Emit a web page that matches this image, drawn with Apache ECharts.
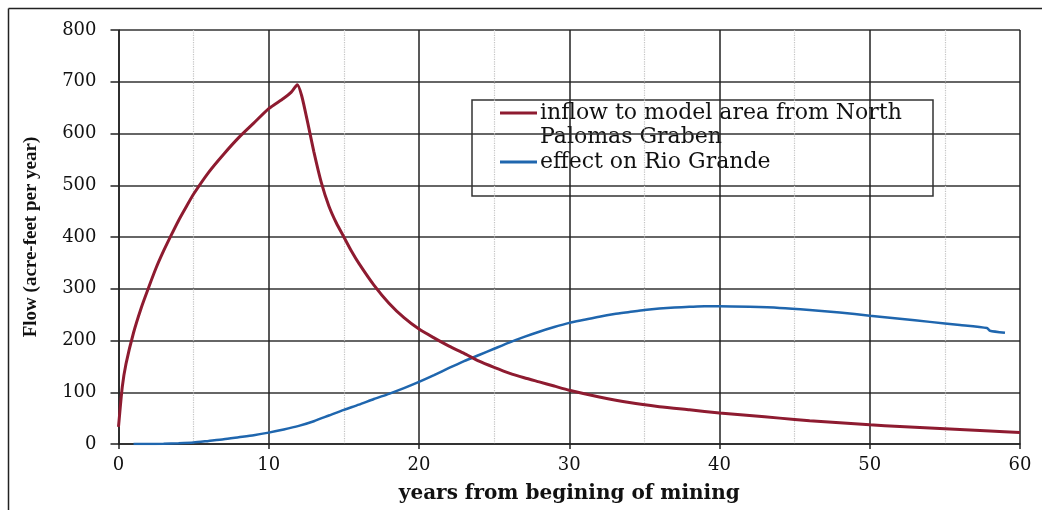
<!DOCTYPE html>
<html>
<head>
<meta charset="utf-8">
<script src="https://cdn.jsdelivr.net/npm/echarts@6/dist/echarts.min.js"></script>
<style>html,body{margin:0;padding:0;background:#fff}#c{width:1042px;height:510px}</style>
</head>
<body>
<div id="c"></div>
<script>
// years from beginning of mining
var inflowYears = [0,0.25,0.5,1,1.5,2,2.5,3,3.5,4,4.5,5,6,7,8,9,10,11,11.5,11.9,12.2,12.6,13,13.5,14,14.5,15,15.5,16,17,18,19,20,21,22,23,24,25,26,27,28,29,30,32,34,36,38,40,42,44,46,48,50,52,54,56,58,60];
var inflowValues = [33,110,155,215,262,302,340,373,403,432,458,483,525,560,592,620,648,668,680,694,672,620,565,505,460,427,400,373,349,307,272,244,222,205,189,175,160,148,137,128,120,112,104,91,80,72,66,60,55,50,45,41,37,34,31,28,25,22];
var rioYears = [1,2,3,4,5,6,7,8,9,10,11,12,13,14,15,16,17,18,19,20,21,22,23,24,25,26,27,28,29,30,31,32,33,34,35,36,37,38,39,40,42,44,46,48,50,52,54,56,57.8,58,59];
var rioValues = [0,0,0.5,1.5,3,6,9,13,17,22,28,35,44,55,66,76,87,97,108,120,133,147,160,172,184,196,207,217,226,234,240,246,251,255,259,262,264,265,266,266,265,263,259,254,248,242,236,230,224,219,215];
var seriesNames = ['inflow to model area from North\nPalomas Graben', 'effect on Rio Grande'];
var xTicks = [0,10,20,30,40,50,60];
var yTicks = [0,100,200,300,400,500,600,700,800];

function pairs(xs, ys){ return xs.map(function(x,i){ return [x, ys[i]]; }); }

var RED = '#8e1b30', BLUE = '#1f66ae';
var chart = echarts.init(document.getElementById('c'));
var serif = 'DejaVu Serif';
chart.setOption({
  animation: false,
  backgroundColor: '#fff',
  grid: {left: 118.5, right: 22, top: 30, bottom: 66},
  xAxis: {
    type: 'value', min: xTicks[0], max: xTicks[xTicks.length-1], interval: 10,
    name: 'years from begining of mining', nameLocation: 'middle', nameGap: 40,
    nameTextStyle: {fontFamily: serif, fontWeight: 'bold', fontSize: 20, color: '#111'},
    axisLine: {show: true, lineStyle: {color: '#222', width: 1.5}},
    axisTick: {show: true, inside: false, length: 5, lineStyle: {color: '#222', width: 1.5}},
    axisLabel: {fontFamily: serif, fontSize: 18, color: '#111', margin: 12},
    splitLine: {show: true, lineStyle: {color: '#222', width: 1.5}},
    minorTick: {show: false, splitNumber: 2},
    minorSplitLine: {show: true, lineStyle: {color: '#c4c4c4', width: 1.2, type: 'dotted'}}
  },
  yAxis: {
    type: 'value', min: yTicks[0], max: yTicks[yTicks.length-1], interval: 100,
    name: 'Flow (acre-feet per year)', nameLocation: 'middle', nameGap: 78, nameRotate: 90,
    nameTextStyle: {fontFamily: 'Liberation Serif', fontWeight: 'bold', fontSize: 19, color: '#111'},
    axisLine: {show: true, lineStyle: {color: '#222', width: 1.5}},
    axisTick: {show: true, inside: false, length: 8, lineStyle: {color: '#222', width: 1.5}},
    axisLabel: {fontFamily: serif, fontSize: 18, color: '#111', margin: 22},
    splitLine: {show: true, lineStyle: {color: '#333', width: 1.5}}
  },
  series: [
    {name: seriesNames[0], type: 'line', data: pairs(inflowYears, inflowValues), showSymbol: false,
     smooth: 0.2, lineStyle: {color: RED, width: 3}, itemStyle: {color: RED}, z: 5},
    {name: seriesNames[1], type: 'line', data: pairs(rioYears, rioValues), showSymbol: false,
     smooth: 0.2, lineStyle: {color: BLUE, width: 2.5}, itemStyle: {color: BLUE}, z: 4}
  ],
  graphic: [
    {type: 'line', shape: {x1: 8.5, y1: 8.5, x2: 1042, y2: 8.5}, style: {stroke: '#222', lineWidth: 1.5}, silent: true},
    {type: 'line', shape: {x1: 8.5, y1: 8.5, x2: 8.5, y2: 510}, style: {stroke: '#222', lineWidth: 1.5}, silent: true},
    {type: 'group', z: 100, children: [
      {type: 'rect', shape: {x: 472, y: 100, width: 461, height: 96}, style: {fill: '#fff', stroke: '#333', lineWidth: 1.5}},
      {type: 'line', shape: {x1: 500, y1: 113, x2: 537, y2: 113}, style: {stroke: RED, lineWidth: 3}},
      {type: 'text', x: 540, y: 113, style: {text: 'inflow to model area from North', font: '22px "DejaVu Serif"', fill: '#111', verticalAlign: 'middle'}},
      {type: 'text', x: 540, y: 137, style: {text: 'Palomas Graben', font: '22px "DejaVu Serif"', fill: '#111', verticalAlign: 'middle'}},
      {type: 'line', shape: {x1: 500, y1: 162, x2: 537, y2: 162}, style: {stroke: BLUE, lineWidth: 3}},
      {type: 'text', x: 540, y: 162, style: {text: seriesNames[1], font: '22px "DejaVu Serif"', fill: '#111', verticalAlign: 'middle'}}
    ]}
  ]
});
</script>
</body>
</html>
